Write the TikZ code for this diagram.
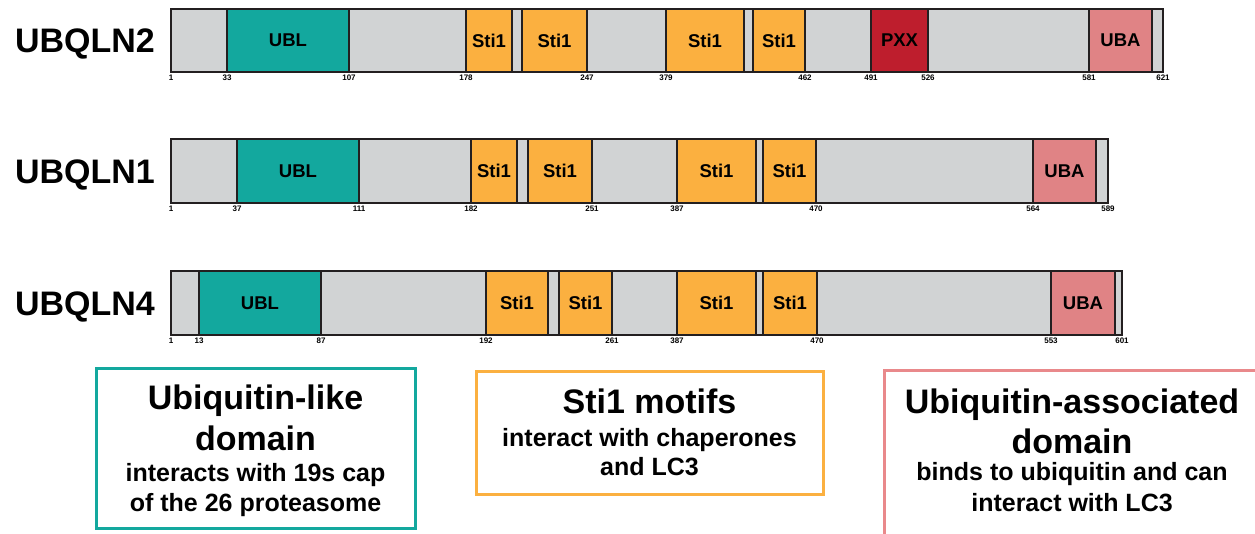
\documentclass[tikz,border=0pt]{standalone}
\usepackage{fontspec}
\setmainfont{Liberation Sans}
\definecolor{barg}{HTML}{D1D3D4}
\definecolor{outl}{HTML}{231F20}
\definecolor{cUBL}{HTML}{13A89E}
\definecolor{cSti}{HTML}{FBB040}
\definecolor{cPXX}{HTML}{BE1E2D}
\definecolor{cUBA}{HTML}{E08385}
\definecolor{cUBAbox}{HTML}{E9898B}
\tikzset{
 bar/.style={draw=outl, line width=1.8pt, fill=barg, inner sep=0pt, outer sep=0pt, anchor=north west},
 dom/.style={bar, font=\bfseries\fontsize{18.5}{18.5}\selectfont, text=black},
 tick/.style={font=\bfseries\fontsize{8}{8}\selectfont, inner sep=0pt, text=black},
 rowlab/.style={font=\bfseries\fontsize{34}{34}\selectfont, anchor=base east, inner sep=0pt, text=black},
 legbox/.style={line width=3pt, fill=white, inner sep=0pt, outer sep=0pt, anchor=north west},
 legtitle/.style={font=\bfseries\fontsize{34}{34}\selectfont, anchor=base, inner sep=0pt, text=black},
 legsub/.style={font=\bfseries\fontsize{25}{25}\selectfont, anchor=base, inner sep=0pt, text=black},
}
\begin{document}
\begin{tikzpicture}[x=1pt,y=-1pt]
\useasboundingbox (0,0) rectangle (1255,533);
\fill[white] (0,0) rectangle (1255,533);

% ---------- UBQLN2 ----------
\node[rowlab] (lab2) at (155,52) {UBQLN2};
\node[bar, minimum width=992pt, minimum height=63pt] (barA) at (171,9) {};
\foreach \a/\b/\c/\t [count=\i] in {227/349/cUBL/UBL, 466/512/cSti/Sti1, 522/587/cSti/Sti1, 666/744/cSti/Sti1, 753/805/cSti/Sti1, 871/928/cPXX/PXX, 1089/1152/cUBA/UBA}
  \node[dom, fill=\c, minimum width={(\b-\a)*1pt}, minimum height=63pt] (A\i) at (\a,9) {\t};
\foreach \p/\q in {171/1, 227/33, 349/107, 466/178, 587/247, 666/379, 805/462, 871/491, 928/526, 1089/581, 1163/621}
  \node[tick] (tA\q) at (\p,78) {\q};

% ---------- UBQLN1 ----------
\node[rowlab] (lab1) at (155,183) {UBQLN1};
\node[bar, minimum width=937pt, minimum height=64pt] (barB) at (171,139) {};
\foreach \a/\b/\c/\t [count=\i] in {237/359/cUBL/UBL, 471/517/cSti/Sti1, 528/592/cSti/Sti1, 677/756/cSti/Sti1, 763/816/cSti/Sti1, 1033/1096/cUBA/UBA}
  \node[dom, fill=\c, minimum width={(\b-\a)*1pt}, minimum height=64pt] (B\i) at (\a,139) {\t};
\foreach \p/\q in {171/1, 237/37, 359/111, 471/182, 592/251, 677/387, 816/470, 1033/564, 1108/589}
  \node[tick] (tB\q) at (\p,209) {\q};

% ---------- UBQLN4 ----------
\node[rowlab] (lab4) at (155,315) {UBQLN4};
\node[bar, minimum width=951pt, minimum height=64pt] (barC) at (171,271) {};
\foreach \a/\b/\c/\t [count=\i] in {199/321/cUBL/UBL, 486/548/cSti/Sti1, 559/612/cSti/Sti1, 677/756/cSti/Sti1, 763/817/cSti/Sti1, 1051/1115/cUBA/UBA}
  \node[dom, fill=\c, minimum width={(\b-\a)*1pt}, minimum height=64pt] (C\i) at (\a,271) {\t};
\foreach \p/\q in {171/1, 199/13, 321/87, 486/192, 612/261, 677/387, 817/470, 1051/553, 1122/601}
  \node[tick] (tC\q) at (\p,341) {\q};

% ---------- Legend ----------
\node[legbox, draw=cUBL, minimum width=319pt, minimum height=160pt] (legA) at (96,368) {};
\node[legtitle] (legA1) at (255.5,409) {Ubiquitin-like};
\node[legtitle] (legA2) at (255.5,450) {domain};
\node[legsub] (legA3) at (255.5,481) {interacts with 19s cap};
\node[legsub] (legA4) at (255.5,511) {of the 26 proteasome};

\node[legbox, draw=cSti, minimum width=347pt, minimum height=123pt] (legB) at (476,371) {};
\node[legtitle] (legB1) at (649.5,413) {Sti1 motifs};
\node[legsub] (legB2) at (649.5,446) {interact with chaperones};
\node[legsub] (legB3) at (649.5,475) {and LC3};

\node[legbox, draw=cUBAbox, minimum width=376pt, minimum height=200pt] (legC) at (884,370) {};
\node[legtitle] (legC1) at (1072,413) {Ubiquitin-associated};
\node[legtitle] (legC2) at (1072,453) {domain};
\node[legsub] (legC3) at (1072,480) {binds to ubiquitin and can};
\node[legsub] (legC4) at (1072,511) {interact with LC3};
\end{tikzpicture}
\end{document}
